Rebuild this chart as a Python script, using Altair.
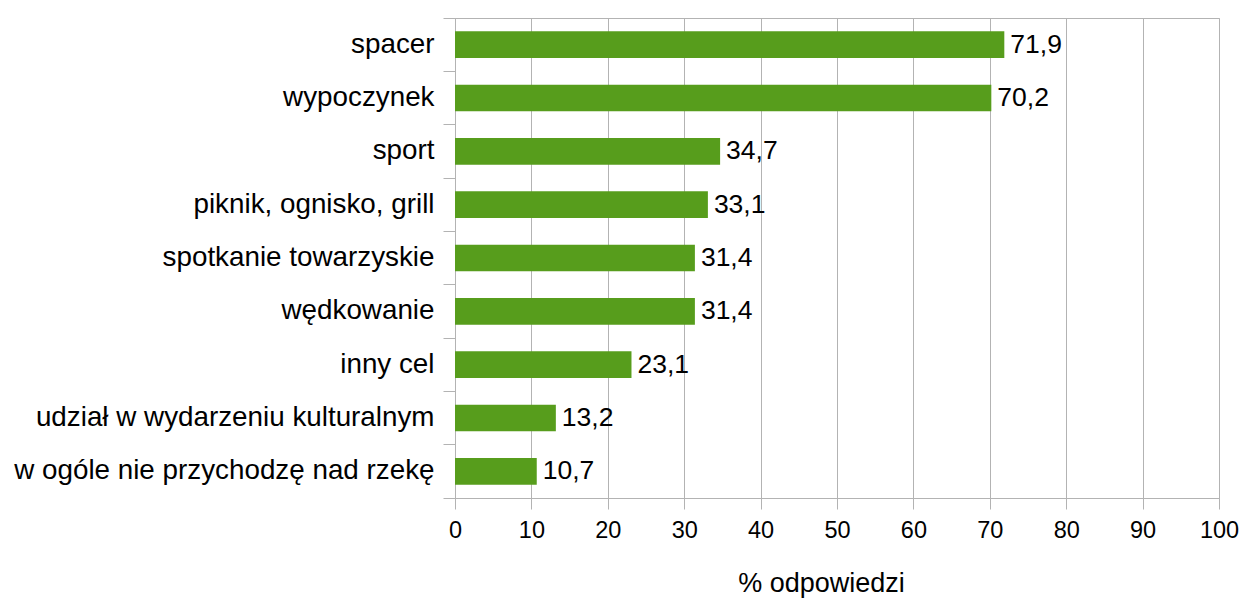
import altair as alt
import pandas as pd

categories = [
    "spacer",
    "wypoczynek",
    "sport",
    "piknik, ognisko, grill",
    "spotkanie towarzyskie",
    "wędkowanie",
    "inny cel",
    "udział w wydarzeniu kulturalnym",
    "w ogóle nie przychodzę nad rzekę",
]
values = [71.9, 70.2, 34.7, 33.1, 31.4, 31.4, 23.1, 13.2, 10.7]
x_ticks = [0, 10, 20, 30, 40, 50, 60, 70, 80, 90, 100]

df = pd.DataFrame({
    "cat": categories,
    "val": values,
    "lab": [f"{v:.1f}".replace(".", ",") for v in values],
})

FONT = "Liberation Sans"
GREEN = "#579d1c"
GRAY = "#b3b3b3"

y_enc = alt.Y(
    "cat:N",
    sort=None,
    title=None,
    scale=alt.Scale(paddingInner=0, paddingOuter=0),
    axis=alt.Axis(
        bandPosition=1,
        tickExtra=True,
        tickSize=12,
        tickColor=GRAY,
        domainColor=GRAY,
        labelFontSize=27.8,
        labelFont=FONT,
        labelColor="black",
        labelPadding=9,
        labelLimit=600,
        grid=False,
    ),
)
x_enc = alt.X(
    "val:Q",
    scale=alt.Scale(domain=[0, 100], nice=False),
    axis=alt.Axis(
        values=x_ticks,
        grid=True,
        gridColor=GRAY,
        domainColor=GRAY,
        tickColor=GRAY,
        tickSize=11,
        labelFontSize=23.5,
        labelFont=FONT,
        labelColor="black",
        labelPadding=9,
        labelFlush=False,
        title="% odpowiedzi",
        titleFont=FONT,
        titleFontSize=27,
        titleFontWeight="normal",
        titleColor="black",
        titleX=366,
        titleY=93,
        titleAlign="center",
        titleBaseline="alphabetic",
    ),
)

bars = alt.Chart(df).mark_bar(color=GREEN, size=26.7).encode(x=x_enc, y=y_enc)
texts = alt.Chart(df).mark_text(
    align="left", baseline="middle", dx=6, fontSize=26.5, font=FONT, color="black"
).encode(x="val:Q", y=alt.Y("cat:N", sort=None), text="lab:N")

chart = (
    alt.layer(bars, texts)
    .properties(
        width=764,
        height=480,
        autosize=alt.AutoSizeParams(type="none"),
        padding={"left": 447, "top": 10, "right": 21, "bottom": 100},
    )
    .configure_view(stroke=GRAY)
)

chart.save("out.html", embed_options={"renderer": "svg", "actions": False})
